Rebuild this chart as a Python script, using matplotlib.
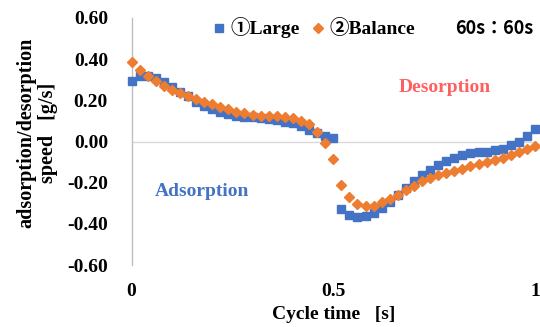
import matplotlib
matplotlib.use('Agg')
import matplotlib.pyplot as plt
from matplotlib.lines import Line2D

# cycle time [s], one point every 0.02 s
cycle_time = [i / 50 for i in range(51)]

large = [0.295, 0.319, 0.316, 0.308, 0.289, 0.267, 0.240, 0.219, 0.194, 0.173,
         0.157, 0.143, 0.133, 0.125, 0.121, 0.119, 0.115, 0.110, 0.105, 0.097,
         0.089, 0.076, 0.057, 0.041, 0.029, 0.016, -0.328, -0.358, -0.367, -0.361,
         -0.345, -0.322, -0.292, -0.259, -0.224, -0.191, -0.163, -0.138, -0.115, -0.097,
         -0.081, -0.065, -0.056, -0.053, -0.049, -0.040, -0.035, -0.016, -0.003, 0.028,
         0.062]

balance = [0.384, 0.345, 0.316, 0.292, 0.271, 0.251, 0.238, 0.222, 0.206, 0.194,
           0.181, 0.167, 0.157, 0.144, 0.138, 0.130, 0.126, 0.126, 0.125, 0.121,
           0.115, 0.102, 0.083, 0.044, -0.008, -0.087, -0.210, -0.270, -0.303, -0.312,
           -0.312, -0.296, -0.280, -0.259, -0.235, -0.215, -0.194, -0.178, -0.165, -0.151,
           -0.141, -0.133, -0.121, -0.110, -0.100, -0.089, -0.078, -0.065, -0.049, -0.035,
           -0.021]

y_ticks = [0.6, 0.4, 0.2, 0.0, -0.2, -0.4, -0.6]
x_ticks = [0, 0.5, 1]
x_tick_labels = ['0', '0.5', '1']

BLUE = '#4472C4'
ORANGE = '#ED7D31'
SERIF = ['Liberation Serif', 'DejaVu Serif']
SYM = ['Liberation Serif', 'Noto Sans CJK JP']
FS = 14

fig = plt.figure(figsize=(5.4, 3.27), dpi=100)
ax = fig.add_axes([131.5 / 540, 1 - 265 / 327, (535 - 131.5) / 540, (265 - 18) / 327])

ax.plot(cycle_time, large, linestyle='none', marker='s', markersize=6.0,
        color=BLUE, zorder=3, clip_on=False)
ax.plot(cycle_time, balance, linestyle='none', marker='D', markersize=5.6,
        color=ORANGE, zorder=4, clip_on=False)

ax.axhline(0, color='#D9D9D9', lw=1.0, zorder=1)
ax.set_xlim(0, 1)
ax.set_ylim(-0.6, 0.6)

for s in ['top', 'right', 'bottom']:
    ax.spines[s].set_visible(False)
ax.spines['left'].set_color('#BFBFBF')
ax.spines['left'].set_linewidth(1.0)

ax.set_yticks(y_ticks)
ax.set_yticklabels(['%.2f' % v for v in y_ticks], fontfamily=SERIF,
                   fontweight='bold', fontsize=FS)
ax.set_xticks(x_ticks)
ax.set_xticklabels(x_tick_labels, fontfamily=SERIF, fontweight='bold', fontsize=FS)
ax.tick_params(axis='y', length=0, pad=17)
ax.tick_params(axis='x', length=0, pad=13)

ax.set_xlabel('Cycle time   [s]', fontfamily=SERIF, fontweight='bold', fontsize=FS,
              labelpad=4)
fig.text(37 / 540, 1 - 133 / 327, 'adsorption/desorption\nspeed   [g/s]', rotation=90,
         ha='center', va='center', fontfamily=SERIF, fontweight='bold', fontsize=14.5,
         linespacing=1.1)

ax.text(0.777, 0.261, 'Desorption', fontfamily=SERIF, fontweight='bold', fontsize=FS,
        color='#FF5F5F', ha='center', va='center')
ax.text(0.175, -0.245, 'Adsorption', fontfamily=SERIF, fontweight='bold', fontsize=FS,
        color=BLUE, ha='center', va='center')

handles = [Line2D([], [], linestyle='none', marker='s', markersize=6.0, color=BLUE),
           Line2D([], [], linestyle='none', marker='D', markersize=5.6, color=ORANGE)]
fig.legend(handles, ['①Large', '②Balance'], loc='center',
           bbox_to_anchor=(313 / 540, 1 - 28 / 327), ncol=2, frameon=False,
           prop={'family': SYM, 'weight': 'bold', 'size': FS},
           handletextpad=0.2, columnspacing=0.5, handlelength=0.8)

fig.text(494 / 540, 1 - 28 / 327, '60s：60s', ha='center', va='center',
         fontfamily=['Noto Sans CJK JP', 'DejaVu Sans'], fontweight='bold', fontsize=13)

fig.savefig('out.png', dpi=100)
